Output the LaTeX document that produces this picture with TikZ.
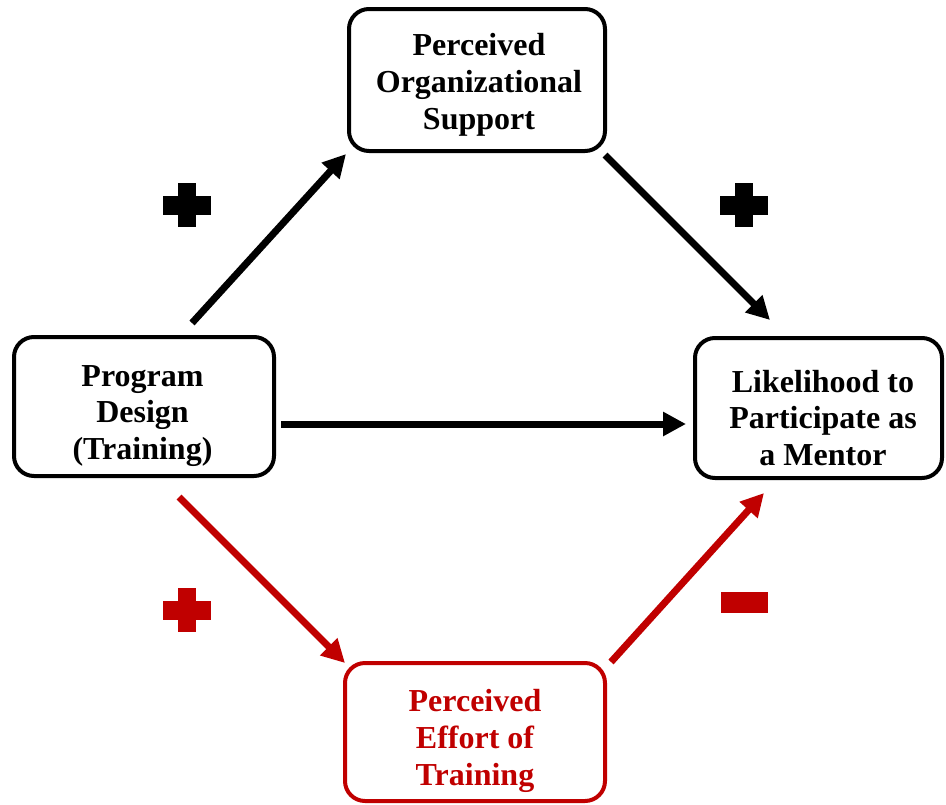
\documentclass[tikz,border=0pt]{standalone}
\usepackage{fontspec}
\setmainfont{Liberation Serif}
\usetikzlibrary{arrows.meta}
\definecolor{darkred}{HTML}{C00000}
\begin{document}
\begin{tikzpicture}[x=1pt,y=-1pt,
  box/.style={draw, line width=4pt, rounded corners=20pt, inner sep=0pt},
  boxtext/.style={inner sep=0pt, align=center, font=\fontsize{32}{36.8}\selectfont\bfseries},
  conn/.style={line width=7pt, -{Triangle[length=23pt,width=23pt]}}]
\useasboundingbox (0,0) rectangle (946,804);
\node[box, minimum width=256pt, minimum height=142pt] (pos) at (477,80) {};
\node[boxtext] (posT) at (479,85) {Perceived\\Organizational\\Support};
\node[box, minimum width=260pt, minimum height=139pt] (pd) at (144,406.5) {};
\node[boxtext] (pdT) at (142.5,416) {Program\\Design\\(Training)};
\node[box, minimum width=247pt, minimum height=140pt] (lm) at (818.5,408) {};
\node[boxtext] (lmT) at (823,418) {Likelihood to\\Participate as\\a Mentor};
\node[box, draw=darkred, minimum width=260pt, minimum height=138pt] (pet) at (475,732) {};
\node[boxtext, text=darkred] (petT) at (475,741) {Perceived\\Effort of\\Training};
\coordinate (a1s) at (192,323); \coordinate (a1e) at (346,154);
\coordinate (a2s) at (605,155); \coordinate (a2e) at (770,320);
\coordinate (a3s) at (281,424); \coordinate (a3e) at (686,424);
\coordinate (a4s) at (179,497); \coordinate (a4e) at (345,663);
\coordinate (a5s) at (611,662); \coordinate (a5e) at (764,493);
\draw[conn] (a1s) -- (a1e);
\draw[conn] (a2s) -- (a2e);
\draw[conn] (a3s) -- (a3e);
\draw[conn, darkred] (a4s) -- (a4e);
\draw[conn, darkred] (a5s) -- (a5e);
% plus signs
\fill (178,183) rectangle (196,227); \fill (163,196) rectangle (211,215);
\fill (735,183) rectangle (753,227); \fill (720,196) rectangle (768,215);
\fill[darkred] (178,588) rectangle (196,632); \fill[darkred] (163,601) rectangle (211,620);
% minus sign
\fill[darkred] (721,592) rectangle (768,613);
\end{tikzpicture}
\end{document}
